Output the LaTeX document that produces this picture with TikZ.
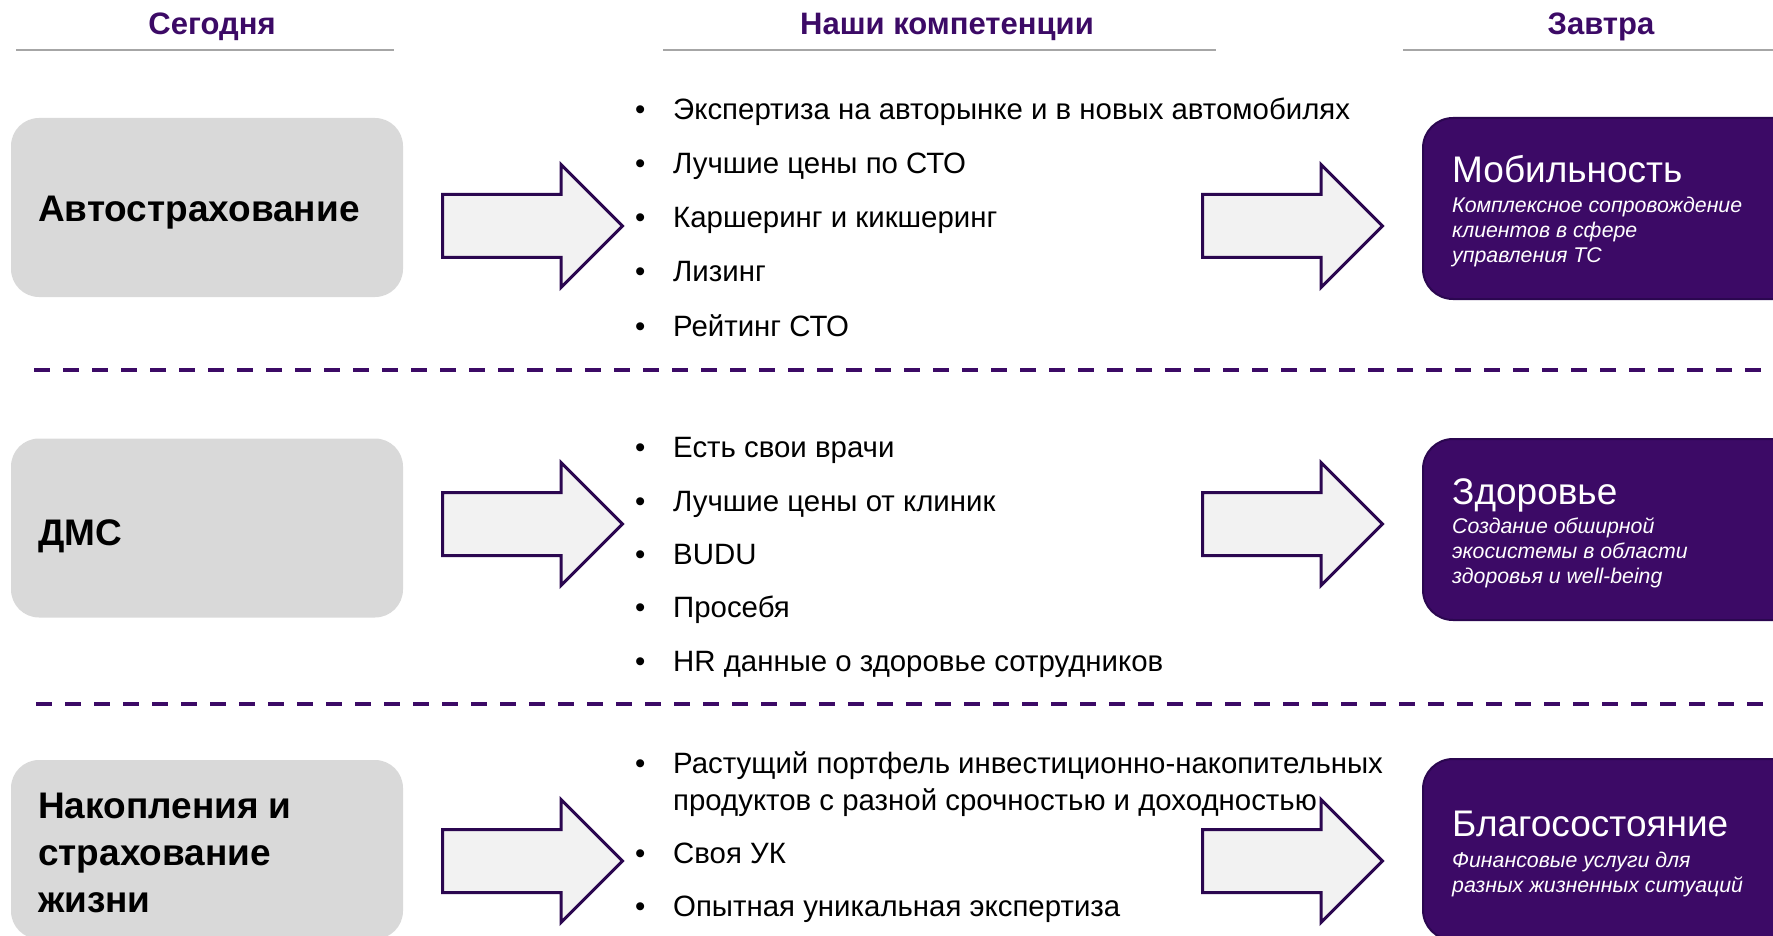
\documentclass[tikz,border=0pt]{standalone}
\usepackage{fontspec}
\setmainfont{Liberation Sans}
\usetikzlibrary{shapes}
\definecolor{brandpurple}{HTML}{3C0A66}
\definecolor{darkpurple}{HTML}{2B0750}
\definecolor{boxgray}{HTML}{D9D9D9}
\definecolor{arrowfill}{HTML}{F2F2F2}
\definecolor{rulegray}{HTML}{A6A6A6}

\begin{document}
\begin{tikzpicture}[x=1pt,y=1pt,
	hdr/.style={font=\fontsize{31}{37}\selectfont\bfseries,text=brandpurple,anchor=base},
	hdrline/.style={draw=rulegray,line width=1.5pt},
	rowsep/.style={draw=brandpurple,line width=4pt,dash pattern=on 16pt off 13pt},
	todaybox/.style={fill=boxgray,rounded corners=28pt,minimum width=392pt,minimum height=179pt},
	todaytext/.style={font=\fontsize{37}{47}\selectfont\bfseries,anchor=base west},
	bigarrow/.style={single arrow,draw=darkpurple,fill=arrowfill,line width=3pt,inner xsep=0pt,inner ysep=30pt,minimum height=180pt,minimum width=120pt,single arrow head extend=30pt,anchor=tail},
	item/.style={font=\fontsize{29.4}{37}\selectfont,anchor=base west,execute at begin node={\makebox[38pt][l]{•}}},
	goalbox/.style={fill=brandpurple,draw=darkpurple,line width=2pt,rounded corners=30pt,minimum width=400pt,minimum height=181pt,anchor=north west},
	goaltitle/.style={font=\fontsize{37}{44}\selectfont,text=white,anchor=base west},
	goalsub/.style={font=\fontsize{21.3}{25}\selectfont\itshape,text=white,anchor=base west}]
	\tikzstyle{every node}+=[inner sep=0pt]
	\useasboundingbox (0,0) rectangle (1773,-936);

	\node[hdr] (today) at (212,-35) {Сегодня};
	\node[hdr] (skills) at (947,-35) {Наши компетенции};
	\node[hdr] (tomorrow) at (1601,-35) {Завтра};
	\draw[hdrline] (16,-50) -- (394,-50);
	\draw[hdrline] (663,-50) -- (1216,-50);
	\draw[hdrline] (1403,-50) -- (1773,-50);

	\draw[rowsep] (34,-370) -- (1773,-370);
	\draw[rowsep] (36,-704) -- (1773,-704);

	\node[todaybox] (auto) at (207,-207.5) {};
	\node[todaytext] (autoT) at (38,-222) {Автострахование};
	\node[todaybox] (dms) at (207,-528) {};
	\node[todaytext] (dmsT) at (38,-545) {ДМС};
	\node[todaybox] (life) at (207,-849.5) {};
	\node[todaytext] (lifeT) at (38,-818) {\begin{tabular}[t]{@{}l@{}}Накопления и\\страхование\\жизни\end{tabular}};

	\node[item] (a1) at (635,-120) {Экспертиза на авторынке и в новых автомобилях};
	\node[item] (a2) at (635,-174) {Лучшие цены по СТО};
	\node[item] (a3) at (635,-228) {Каршеринг и кикшеринг};
	\node[item] (a4) at (635,-281) {Лизинг};
	\node[item] (a5) at (635,-336) {Рейтинг СТО};

	\node[item] (d1) at (635,-457) {Есть свои врачи};
	\node[item] (d2) at (635,-511) {Лучшие цены от клиник};
	\node[item] (d3) at (635,-564) {BUDU};
	\node[item] (d4) at (635,-617) {Просебя};
	\node[item] (d5) at (635,-671) {HR данные о здоровье сотрудников};

	\node[item] (l1) at (635,-773) {\begin{tabular}[t]{@{}l@{}}Растущий портфель инвестиционно-накопительных\\продуктов с разной срочностью и доходностью\end{tabular}};
	\node[item] (l2) at (635,-863) {Своя УК};
	\node[item] (l3) at (635,-916) {Опытная уникальная экспертиза};

	\node[bigarrow] (autoA) at (441,-226) {};
	\node[bigarrow] (autoB) at (1201,-226) {};
	\node[bigarrow] (dmsA) at (441,-524) {};
	\node[bigarrow] (dmsB) at (1201,-524) {};
	\node[bigarrow] (lifeA) at (441,-861) {};
	\node[bigarrow] (lifeB) at (1201,-861) {};

	\node[goalbox] (mob) at (1422,-117) {};
	\node[goaltitle] (mobT) at (1452,-183) {Мобильность};
	\node[goalsub] (mobS) at (1452,-213) {\begin{tabular}[t]{@{}l@{}}Комплексное сопровождение\\клиентов в сфере\\управления ТС\end{tabular}};
	\node[goalbox] (health) at (1422,-438) {};
	\node[goaltitle] (healthT) at (1452,-504) {Здоровье};
	\node[goalsub] (healthS) at (1452,-533) {\begin{tabular}[t]{@{}l@{}}Создание обширной\\экосистемы в области\\здоровья и well-being\end{tabular}};
	\node[goalbox] (wealth) at (1422,-758) {};
	\node[goaltitle] (wealthT) at (1452,-836) {Благосостояние};
	\node[goalsub] (wealthS) at (1452,-867) {\begin{tabular}[t]{@{}l@{}}Финансовые услуги для\\разных жизненных ситуаций\end{tabular}};
\end{tikzpicture}
\end{document}
